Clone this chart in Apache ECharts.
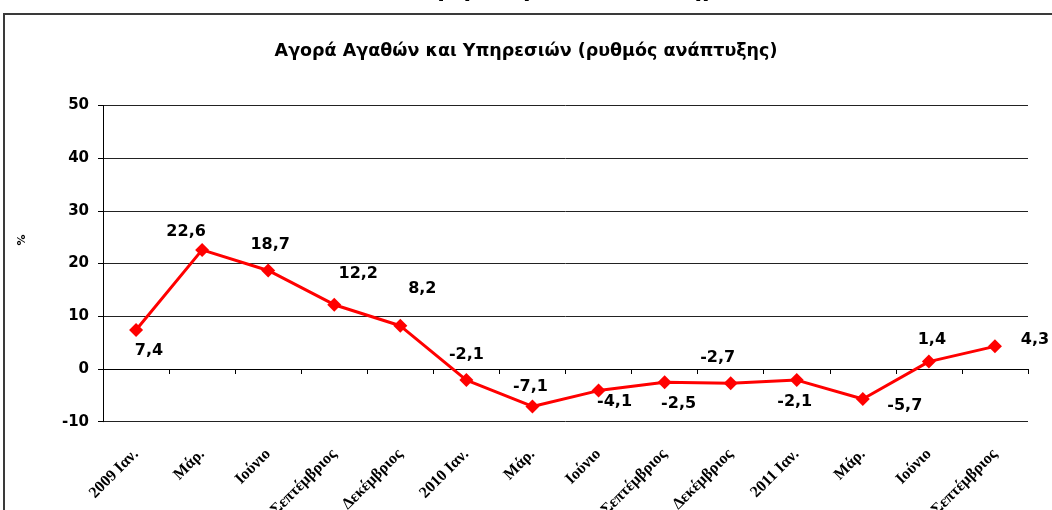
<!DOCTYPE html>
<html>
<head>
<meta charset="utf-8">
<title>Αγορά Αγαθών και Υπηρεσιών</title>
<script src="https://cdn.jsdelivr.net/npm/echarts@6/dist/echarts.min.js"></script>
<style>
  html, body { margin: 0; padding: 0; background: #fff; }
  #chart { width: 1052px; height: 510px; }
</style>
</head>
<body>
<div id="chart"></div>
<script>
// κατηγορίες (μήνες)
var months = ['2009 Ιαν.', 'Μάρ.', 'Ιούνιο', 'Σεπτέμβριος', 'Δεκέμβριος',
              '2010 Ιαν.', 'Μάρ.', 'Ιούνιο', 'Σεπτέμβριος', 'Δεκέμβριος',
              '2011 Ιαν.', 'Μάρ.', 'Ιούνιο', 'Σεπτέμβριος'];
// ρυθμός ανάπτυξης %
var growth = [7.4, 22.6, 18.7, 12.2, 8.2, -2.1, -7.1, -4.1, -2.5, -2.7, -2.1, -5.7, 1.4, 4.3];
var yTicks = [-10, 0, 10, 20, 30, 40, 50];

// θέση ετικέτας κάθε σημείου (dx, dy από το σημείο)
var labelOffsets = [[13, 21], [-16, -18], [2, -26], [24, -31], [22, -37], [0, -25], [-2, -20],
                    [16, 11], [14, 22], [-13, -25], [-2, 22], [42, 7], [3, -22], [40, -6]];

var chart = echarts.init(document.getElementById('chart'));

var points = growth.map(function (v, i) {
    return {
        value: v,
        label: { offset: labelOffsets[i] }
    };
});

chart.setOption({
    animation: false,
    backgroundColor: '#fff',
    title: {
        text: 'Αγορά Αγαθών και Υπηρεσιών (ρυθμός ανάπτυξης)',
        left: 'center',
        top: 37,
        textStyle: { fontFamily: 'DejaVu Sans', fontWeight: 'bold', fontSize: 17.5, color: '#000' }
    },
    graphic: [
        {
            type: 'rect',
            shape: { x: 4, y: 14, width: 1200, height: 700 },
            style: { fill: 'none', stroke: '#3a3a3a', lineWidth: 2 },
            z: -1
        },
        {
            type: 'text',
            x: 603, y: 2,
            style: {
                text: 'Αγορά Αγαθών και Υπηρεσιών',
                align: 'center', verticalAlign: 'bottom',
                font: 'bold 22px "DejaVu Sans"', fill: '#000'
            }
        },
        {
            type: 'text',
            x: 22, y: 240, rotation: Math.PI / 2,
            style: {
                text: '%', align: 'center', verticalAlign: 'middle',
                font: 'bold 11px "DejaVu Sans"', fill: '#000'
            }
        }
    ],
    grid: { left: 103, right: 24, top: 105.5, bottom: 88.3, containLabel: false, outerBoundsMode: 'none' },
    xAxis: [
        {
            type: 'category',
            data: months,
            boundaryGap: true,
            axisLine: { onZero: true, lineStyle: { color: '#000', width: 1 } },
            axisTick: { show: true, interval: 0, length: 5, lineStyle: { color: '#000' } },
            axisLabel: { show: false }
        },
        {
            type: 'category',
            data: months,
            position: 'bottom',
            boundaryGap: true,
            axisLine: { show: false, onZero: false },
            axisTick: { show: false },
            axisLabel: {
                interval: 0,
                rotate: 45,
                margin: 30,
                fontFamily: 'Liberation Serif',
                fontWeight: 'bold',
                fontSize: 16,
                color: '#000'
            }
        }
    ],
    yAxis: {
        type: 'value',
        min: yTicks[0],
        max: yTicks[yTicks.length - 1],
        interval: 10,
        axisLine: { show: true, lineStyle: { color: '#000', width: 1 } },
        axisTick: { show: true, length: 5, lineStyle: { color: '#000' } },
        axisLabel: {
            margin: 14,
            fontFamily: 'DejaVu Sans',
            fontWeight: 'bold',
            fontSize: 15,
            color: '#000'
        },
        splitLine: { show: true, lineStyle: { color: '#222', width: 1 } }
    },
    series: [
        {
            type: 'line',
            xAxisIndex: 0,
            data: points,
            symbol: 'diamond',
            symbolSize: 14,
            itemStyle: { color: '#ff0000' },
            lineStyle: { color: '#ff0000', width: 3 },
            label: {
                show: true,
                position: 'inside',
                formatter: function (p) { return String(p.value).replace('.', ','); },
                fontFamily: 'DejaVu Sans',
                fontWeight: 'bold',
                fontSize: 16,
                color: '#000'
            }
        }
    ]
});
</script>
</body>
</html>
